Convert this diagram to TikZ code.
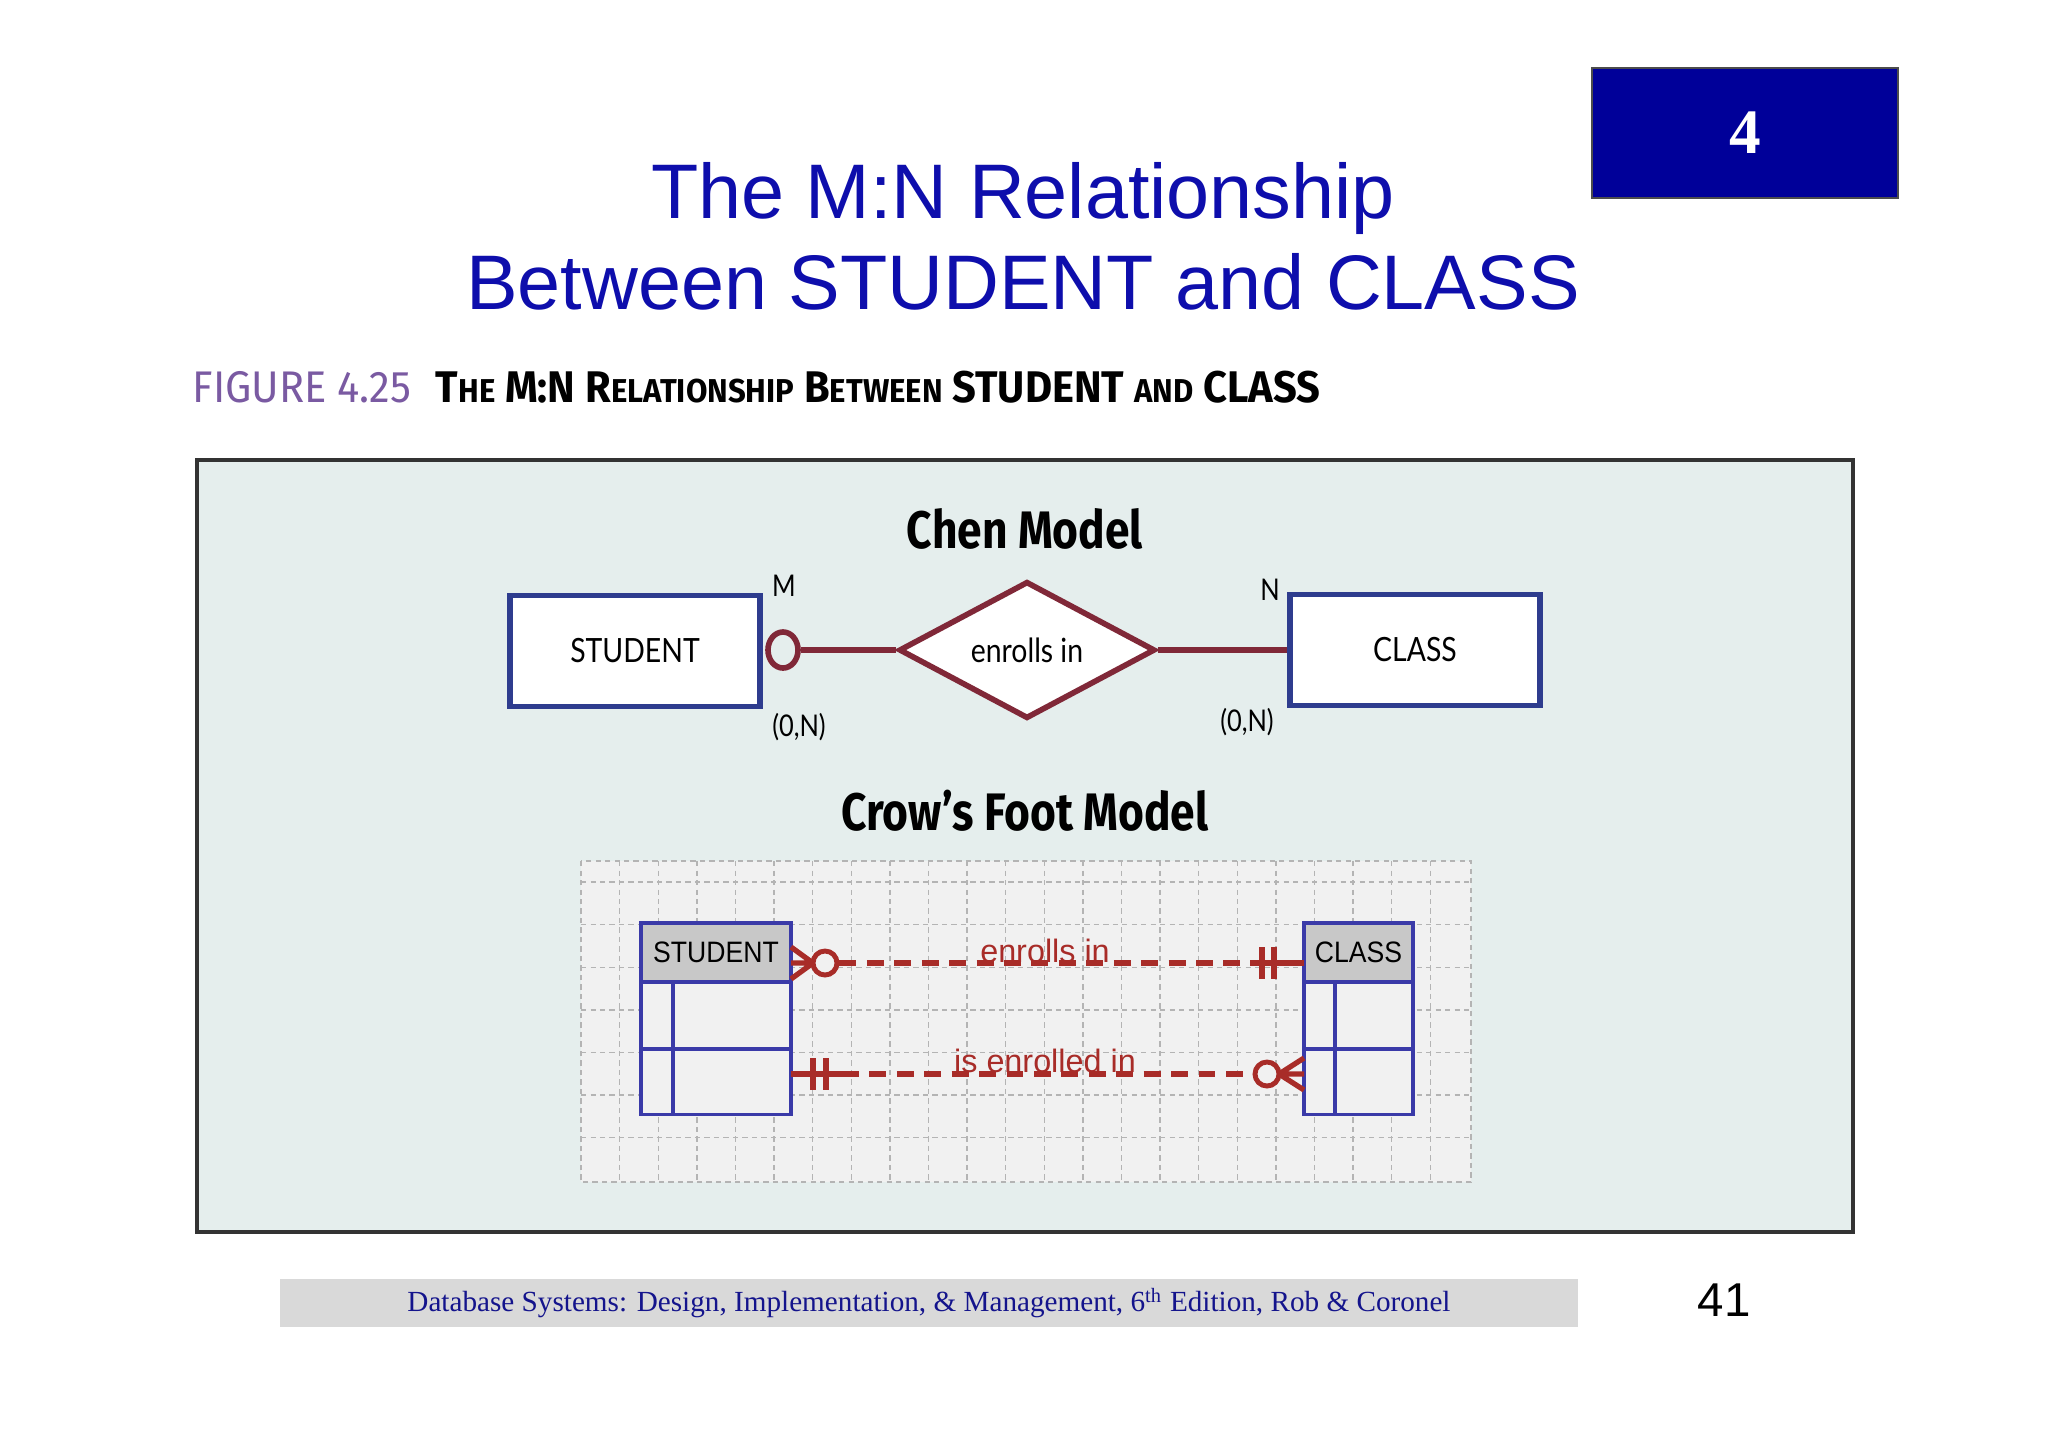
\documentclass[tikz,border=0pt]{standalone}
\usepackage{fontspec}
\setmainfont{Liberation Sans}
\newfontfamily\serifface{Liberation Serif}
\newfontfamily\headface[FakeStretch=0.84]{Fira Sans}
\newfontfamily\captface[FakeStretch=0.94]{Fira Sans}
\newfontfamily\chenface[FakeStretch=0.85]{Lato}
\newfontfamily\boxface[FakeStretch=0.9]{Liberation Sans}
\usetikzlibrary{shapes,positioning,calc}
\definecolor{slideblue}{RGB}{0,0,153}
\definecolor{titleblue}{RGB}{14,14,172}
\definecolor{figpurple}{RGB}{122,90,162}
\definecolor{panelbg}{RGB}{229,238,237}
\definecolor{entblue}{RGB}{46,60,142}
\definecolor{relred}{RGB}{128,40,56}
\definecolor{cfred}{RGB}{168,44,40}
\definecolor{cfblue}{RGB}{58,58,168}
\definecolor{gridbg}{RGB}{241,241,241}
\definecolor{gridln}{RGB}{180,180,180}
\definecolor{hdrgray}{RGB}{200,200,200}
\definecolor{footgray}{RGB}{217,217,217}
\definecolor{foottext}{RGB}{20,20,140}
\newcommand\capsm[1]{{\fontsize{9.4}{9.4}\selectfont #1}}

\begin{document}
\begin{tikzpicture}[
    x=0.01cm, y=-0.01cm,
    entity/.style={rectangle, draw=entblue, line width=1.6pt, fill=white,
                   minimum width=2.5cm, minimum height=1.11cm,
                   font=\chenface\fontsize{9.5}{10}\selectfont},
    relship/.style={diamond, draw=relred, line width=1.6pt, fill=white,
                    minimum width=2.56cm, minimum height=1.11cm, inner sep=0pt,
                    font=\chenface\fontsize{9.5}{10}\selectfont},
    zero/.style={ellipse, draw=relred, line width=1.6pt, fill=panelbg,
                 minimum width=0.3cm, minimum height=0.36cm, inner sep=0pt},
    card/.style={font=\chenface\fontsize{8.5}{9}\selectfont},
    model/.style={font=\headface\bfseries\fontsize{15}{15}\selectfont},
    chenline/.style={draw=relred, line width=1.6pt},
    cfbox/.style={rectangle, draw=cfblue, line width=0.9pt, fill=gridbg, inner sep=0pt},
    cfhead/.style={rectangle, draw=cfblue, line width=0.9pt, fill=hdrgray, inner sep=0pt,
                   minimum height=0.59cm, font=\boxface\fontsize{8.4}{9}\selectfont},
    cfzero/.style={circle, draw=cfred, line width=1.4pt, fill=gridbg,
                   minimum size=0.24cm, inner sep=0pt},
    cfline/.style={draw=cfred, line width=1.5pt},
    cfdash/.style={cfline, dash pattern=on 4.8pt off 3pt},
    cflabel/.style={text=cfred, font=\fontsize{9.2}{10}\selectfont, inner sep=0pt, anchor=base},
    gridrule/.style={draw=gridln, line width=0.4pt, dash pattern=on 1.5pt off 1.2pt}
]
\useasboundingbox[fill=white] (0,0) rectangle (2048,1447);

\node[rectangle, draw=black!70, line width=0.4pt, fill=slideblue, minimum width=3.06cm,
      minimum height=1.3cm, text=white, font=\serifface\bfseries\fontsize{18}{18}\selectfont]
      (chapter) at (1745,133) {4};
\node[align=center, text=titleblue, font=\fontsize{22}{25.8}\selectfont] (title) at (1023,236)
      {The M:N Relationship\\Between STUDENT and CLASS};
\node[anchor=base west, inner sep=0pt, font=\captface\fontsize{12.6}{12.6}\selectfont] (caption) at (192,402)
      {\textcolor{figpurple}{FIGURE 4.25}\hspace{0.55em}{\bfseries T\capsm{HE} M:N R\capsm{ELATIONSHIP} B\capsm{ETWEEN} STUDENT \capsm{AND} CLASS}};

\draw[draw=black!80, line width=0.9pt, fill=panelbg] (197,460) rectangle (1853,1232);

\node[model] (chentitle) at (1025,529) {Chen Model};
\node[entity] (chenstu) at (635,651) {STUDENT};
\node[zero] (chenzero) at (783,650) {};
\node[relship] (chenrel) at (1027,650) {enrolls in};
\node[entity] (chencls) at (1415,650) {CLASS};
\node[card] (cardm) at (784,586) {M};
\node[card] (cardn) at (1270,590) {N};
\node[card] (cardsn) at (799,727) {(0,N)};
\node[card] (cardcn) at (1247,722) {(0,N)};
\draw[chenline] (chenzero) -- (chenrel);
\draw[chenline] (chenrel) -- (chencls);

\node[model] (cftitle) at (1025,811) {Crow’s Foot Model};
\fill[gridbg] (581,861) rectangle (1471,1182);
\foreach \k in {1,...,22}
    \draw[gridrule] (581+\k*38.6,861) -- (581+\k*38.6,1182);
\foreach \k in {0,...,6}
    \draw[gridrule] (581,882+\k*42.6) -- (1471,882+\k*42.6);
\draw[gridrule] (581,861) rectangle (1471,1182);

\node[cfbox, minimum width=1.5cm, minimum height=1.91cm] (cfstu) at (716,1018.5) {};
\node[cfhead, minimum width=1.5cm, anchor=north] (cfstuh) at (cfstu.north) {STUDENT};
\node[cfbox, minimum width=1.09cm, minimum height=1.91cm] (cfcls) at (1358.5,1018.5) {};
\node[cfhead, minimum width=1.09cm, anchor=north] (cfclsh) at (cfcls.north) {CLASS};
\draw[draw=cfblue, line width=0.9pt] (673,982) -- (673,1114) (641,1049) -- (791,1049);
\draw[draw=cfblue, line width=0.9pt] (1335,982) -- (1335,1114) (1304,1049) -- (1413,1049);

\coordinate (r1a) at (791,963);
\coordinate (r1b) at (1250,963);
\coordinate (r1c) at (1304,963);
\node[cfzero] (r1o) at (825,963) {};
\draw[cfline] (813,963) -- (r1a) (813,963) -- (791,947) (813,963) -- (791,979);
\draw[cfdash] (r1o) -- (r1b);
\draw[cfline] (r1b) -- (r1c);
\draw[cfline] (1262,947) -- (1262,979) (1274,947) -- (1274,979);
\node[cflabel] (r1lbl) at (1045,962) {enrolls in};

\coordinate (r2a) at (791,1074);
\coordinate (r2b) at (842,1074);
\coordinate (r2c) at (1304,1074);
\node[cfzero] (r2o) at (1267,1074) {};
\draw[cfline] (r2a) -- (r2b);
\draw[cfline] (813,1058) -- (813,1090) (826,1058) -- (826,1090);
\draw[cfdash] (r2b) -- (r2o);
\draw[cfline] (1279,1074) -- (r2c) (1279,1074) -- (1304,1058) (1279,1074) -- (1304,1090);
\node[cflabel] (r2lbl) at (1045,1072) {is enrolled in};

\node[rectangle, fill=footgray, minimum width=12.98cm, minimum height=0.48cm, inner sep=0pt,
      text=foottext, font=\serifface\fontsize{8.3}{9}\selectfont] (footer) at (929,1303)
      {Database Systems: Design, Implementation, \& Management, 6\textsuperscript{th} Edition, Rob \& Coronel};
\node[font=\fontsize{13.5}{14}\selectfont] (pageno) at (1724,1300) {41};
\end{tikzpicture}
\end{document}
